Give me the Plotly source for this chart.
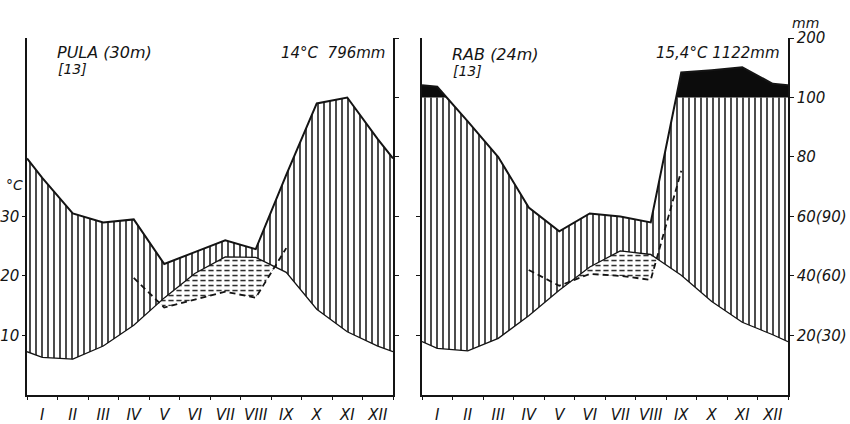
import numpy as np
import plotly.graph_objects as go

# ---------------- data ----------------
months = ["I", "II", "III", "IV", "V", "VI", "VII", "VIII", "IX", "X", "XI", "XII"]

pula_temp = [6.3, 6.0, 8.2, 11.7, 16.3, 20.4, 23.2, 23.1, 20.6, 14.4, 10.6, 8.2]   # °C
pula_prec = [73, 61, 58, 59, 44, 48, 52, 49, 74, 98, 100, 86]                       # mm

rab_temp = [7.8, 7.4, 9.5, 13.3, 17.6, 21.5, 24.2, 23.6, 20.1, 15.7, 12.2, 10.1]   # °C
rab_prec = [118, 92, 80, 63, 55, 61, 60, 58, 142, 146, 151, 123]                   # mm

# precipitation drawn on the 1:3 scale (dashed curve), months IV..IX
dry_months = ["IV", "V", "VI", "VII", "VIII", "IX"]
pula_dry_prec = [59, 44, 48, 52, 49, 74]
rab_dry_prec = [63, 55, 61, 60, 58, 113]

temp_ticks = [10, 20, 30]
prec_ticks = [20, 40, 60, 80, 100, 200]
prec_tick_text = ["20(30)", "40(60)", "60(90)", "80", "100", "200"]

stations = [
    dict(name="PULA (30m)", ref="[13]", summary="14°C  796mm",
         temp=pula_temp, prec=pula_prec, dry=pula_dry_prec),
    dict(name="RAB (24m)", ref="[13]", summary="15,4°C 1122mm",
         temp=rab_temp, prec=rab_prec, dry=rab_dry_prec),
]

# ---------------- helpers ----------------
W, H = 850, 424
FONT = "DejaVu Sans"
INK = "#141414"
X_MON = np.arange(12) + 0.5


def disp_mm(p):
    """Walter-Lieth precipitation scale: 10 °C = 20 mm, above 100 mm reduced 1:10."""
    return p / 2.0 if p <= 100 else 50.0 + (p - 100) / 10.0


def closed(vals):
    vals = np.asarray(vals, float)
    edge = (vals[0] + vals[-1]) / 2.0
    return np.r_[0.0, X_MON, 12.0], np.r_[edge, vals, edge]


def crossings(x, a, b):
    d = np.asarray(a, float) - np.asarray(b, float)
    out = []
    for i in range(len(x) - 1):
        if d[i] * d[i + 1] < 0:
            t = d[i] / (d[i] - d[i + 1])
            out.append(x[i] + t * (x[i + 1] - x[i]))
    return out


def refine(x, *curves):
    x = np.asarray(x, float)
    extra = []
    for i in range(len(curves)):
        for j in range(i + 1, len(curves)):
            extra += crossings(x, curves[i], curves[j])
    xs = np.unique(np.r_[x, extra])
    return xs, [np.interp(xs, x, np.asarray(c, float)) for c in curves]


def regions(x, upper, lower):
    xs, (u, l) = refine(x, upper, lower)
    pos = ((u[:-1] + u[1:]) - (l[:-1] + l[1:])) / 2 > 1e-9
    px, py = [], []
    i, n = 0, len(pos)
    while i < n:
        if pos[i]:
            j = i
            while j < n and pos[j]:
                j += 1
            idx = list(range(i, j + 1))
            px += [xs[k] for k in idx] + [xs[k] for k in reversed(idx)] + [None]
            py += [u[k] for k in idx] + [l[k] for k in reversed(idx)] + [None]
            i = j
        else:
            i += 1
    return px, py


def ann(text, px, py, size, xanchor="left"):
    return dict(x=px / W, y=1 - py / H, xref="paper", yref="paper", text=text,
                showarrow=False, xanchor=xanchor, yanchor="middle",
                font=dict(family=FONT, size=size, color=INK, style="italic"))


fig = go.Figure()

panel_dom = [[27 / W, 393 / W], [422 / W, 788 / W]]
y_dom = [(H - 398) / H, (H - 30) / H]

for k, st in enumerate(stations):
    xa = "x" if k == 0 else "x2"
    ya = "y" if k == 0 else "y2"
    xg, T = closed(st["temp"])
    _, P = closed([disp_mm(p) for p in st["prec"]])
    level = np.full_like(P, 50.0)

    # humid area (vertical hatching) between temperature and min(P, 100 mm)
    xs1, (Pi, Ti) = refine(xg, P, level)
    Pc = np.minimum(Pi, 50.0)
    Ti = np.interp(xs1, xg, T)
    hx, hy = regions(xs1, Pc, Ti)
    fig.add_trace(go.Scatter(x=hx, y=hy, xaxis=xa, yaxis=ya, mode="none", fill="toself",
                             fillcolor="rgba(0,0,0,0)",
                             fillpattern=dict(shape="|", size=6, solidity=0.28,
                                              fgcolor="#2a2a2a", bgcolor="rgba(0,0,0,0)",
                                              fillmode="replace"),
                             hoverinfo="skip"))
    # perhumid part above 100 mm (black)
    bx, by = regions(xg, P, level)
    if bx:
        fig.add_trace(go.Scatter(x=bx, y=by, xaxis=xa, yaxis=ya, mode="none", fill="toself",
                                 fillcolor="#0c0c0c", hoverinfo="skip"))
    # dry-ish period: temperature above 1:3 precipitation (dashed hatching)
    xd = X_MON[3:9]
    D = np.asarray(st["dry"], float) / 3.0
    Td = np.interp(xd, xg, T)
    dx, dy = regions(xd, Td, D)
    fig.add_trace(go.Scatter(x=dx, y=dy, xaxis=xa, yaxis=ya, mode="none", fill="toself",
                             fillcolor="rgba(0,0,0,0)",
                             fillpattern=dict(shape="-", size=5, solidity=0.3,
                                              fgcolor="#222", bgcolor="rgba(0,0,0,0)",
                                              fillmode="replace"),
                             hoverinfo="skip"))
    fig.add_trace(go.Scatter(x=dx, y=dy, xaxis=xa, yaxis=ya, mode="none", fill="toself",
                             fillcolor="rgba(0,0,0,0)",
                             fillpattern=dict(shape="|", size=8, solidity=0.35,
                                              fgcolor="#ffffff", bgcolor="rgba(0,0,0,0)",
                                              fillmode="replace"),
                             hoverinfo="skip"))
    # curves
    fig.add_trace(go.Scatter(x=xg, y=T, xaxis=xa, yaxis=ya, mode="lines",
                             line=dict(color=INK, width=1.3), hoverinfo="skip"))
    fig.add_trace(go.Scatter(x=xg, y=P, xaxis=xa, yaxis=ya, mode="lines",
                             line=dict(color=INK, width=2.0), hoverinfo="skip"))
    fig.add_trace(go.Scatter(x=xd, y=D, xaxis=xa, yaxis=ya, mode="lines",
                             line=dict(color=INK, width=1.8, dash="6px,4px"), hoverinfo="skip"))

    # annotations
    x0 = 27 if k == 0 else 422
    x1 = 393 if k == 0 else 788
    fig.add_annotation(ann(st["name"], x0 + 28, 45 if k == 0 else 47, 16))
    fig.add_annotation(ann(st["ref"], x0 + 29, 62 if k == 0 else 64, 14))
    fig.add_annotation(ann(st["summary"], x1 - 6, 45, 15, xanchor="right"))

fig.add_annotation(ann("°C", 4, 182, 14))
fig.add_annotation(ann("mm", 805, 14, 14, xanchor="center"))

axis_common = dict(showgrid=False, zeroline=False, showline=True, linecolor=INK, linewidth=1.5,
                   tickcolor=INK, tickwidth=1.4)
tickfont = dict(family=FONT, size=15, color=INK, style="italic")

for k in range(2):
    sx = "" if k == 0 else "2"
    fig.update_layout(**{
        "xaxis" + sx: dict(axis_common, domain=panel_dom[k], range=[0, 12], anchor="y" + sx,
                           tickmode="array", tickvals=list(X_MON), ticktext=months,
                           ticks="outside", ticklen=5, tickcolor="rgba(0,0,0,0)",
                           tickfont=tickfont, fixedrange=True,
                           minor=dict(tickmode="array", tickvals=list(range(13)),
                                      ticks="outside", ticklen=3, tickcolor=INK, tickwidth=1.2)),
    })

fig.update_layout(
    yaxis=dict(axis_common, domain=y_dom, range=[0, 60], anchor="x",
               tickmode="array", tickvals=temp_ticks, ticktext=[str(t) for t in temp_ticks],
               ticks="outside", ticklen=3, tickfont=tickfont),
    yaxis3=dict(axis_common, domain=y_dom, range=[0, 60], anchor="x", overlaying="y", side="right",
                tickmode="array", tickvals=[disp_mm(p) for p in prec_ticks],
                ticks="outside", ticklen=4, showticklabels=False),
    yaxis2=dict(axis_common, domain=y_dom, range=[0, 60], anchor="x2",
                tickmode="array", tickvals=temp_ticks, ticks="outside", ticklen=4,
                showticklabels=False),
    yaxis4=dict(axis_common, domain=y_dom, range=[0, 60], anchor="x2", overlaying="y2", side="right",
                tickmode="array", tickvals=[disp_mm(p) for p in prec_ticks], ticktext=prec_tick_text,
                ticks="outside", ticklen=4, tickfont=tickfont),
)

# dummy traces to activate the right-hand axes
fig.add_trace(go.Scatter(x=[None], y=[None], xaxis="x", yaxis="y3", showlegend=False))
fig.add_trace(go.Scatter(x=[None], y=[None], xaxis="x2", yaxis="y4", showlegend=False))

fig.update_layout(width=W, height=H, margin=dict(l=0, r=0, t=0, b=0),
                  paper_bgcolor="white", plot_bgcolor="white", showlegend=False)

fig.write_html("out.html")
